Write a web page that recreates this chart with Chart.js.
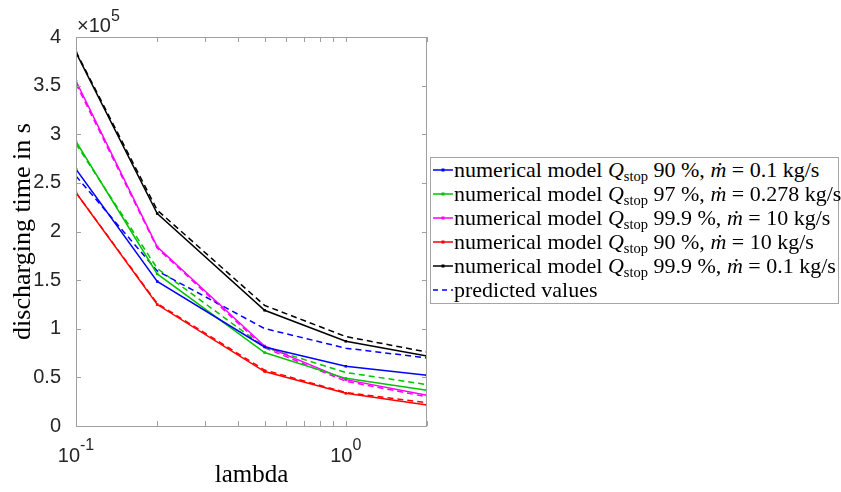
<!DOCTYPE html>
<html>
<head>
<meta charset="utf-8">
<script src="https://cdn.jsdelivr.net/npm/chart.js@4.4.0/dist/chart.umd.min.js"></script>
<style>
    body { margin: 0; background: #fff; }
    #wrap { position: relative; width: 841px; height: 492px; }
    #legend {
        position: absolute; left: 430px; top: 157px; width: 409px; height: 147px;
        box-sizing: border-box; border: 1px solid #a6a6a6; background: #fff;
        font-family: "Liberation Serif", serif; font-size: 22px; color: #000;
        padding-top: 0px;
    }
    .legend-row { height: 24px; line-height: 24px; white-space: nowrap; display: flex; align-items: center; }
    .legend-row svg { margin-left: 2px; margin-right: 1px; flex: none; }
    .legend-row sub { font-size: 0.66em; vertical-align: -0.3em; line-height: 0; }
</style>
</head>
<body>
<div id="wrap">
    <canvas id="chart" width="841" height="492"></canvas>
    <div id="legend"></div>
</div>
<script>
// lambda values (x axis, log scale)
const lambda = [0.1, 0.2, 0.5, 1, 2];

// numerical model, discharging time in s
const numQ90m01 = [264000, 148600, 81300, 61400, 52100];
const numQ97m0278 = [292600, 156400, 75500, 49000, 36700];
const numQ999m10 = [354600, 184200, 82300, 47700, 31600];
const numQ90m10 = [240000, 124900, 56000, 33600, 21600];
const numQ999m01 = [384000, 218500, 119000, 87100, 72000];

// predicted values
const predQ90m01 = [257000, 159500, 100200, 80000, 70000];
const predQ97m0278 = [290000, 162000, 81000, 55000, 42600];
const predQ999m10 = [352000, 183000, 80500, 46000, 30000];
const predQ90m10 = [240000, 126000, 57500, 34500, 24000];
const predQ999m01 = [385000, 222000, 124000, 92000, 76000];

// tick positions
const xMinorTicks = [0.1, 0.2, 0.3, 0.4, 0.5, 0.6, 0.7, 0.8, 0.9, 1, 2];
const xMajorTicks = [{ value: 0.1, exp: '-1' }, { value: 1, exp: '0' }];

const seriesNames = [
    ['90', '0.1'],
    ['97', '0.278'],
    ['99.9', '10'],
    ['90', '10'],
    ['99.9', '0.1']
];
const seriesColors = ['#0000ff', '#00c400', '#ff00ff', '#ff0000', '#000000'];
const numerical = [numQ90m01, numQ97m0278, numQ999m10, numQ90m10, numQ999m01];
const predicted = [predQ90m01, predQ97m0278, predQ999m10, predQ90m10, predQ999m01];

const datasets = [];
numerical.forEach((values, i) => {
    datasets.push({
        label: 'numerical model Qstop ' + seriesNames[i][0] + ' %, ṁ = ' + seriesNames[i][1] + ' kg/s',
        data: lambda.map((x, k) => ({ x: x, y: values[k] })),
        borderColor: seriesColors[i],
        backgroundColor: seriesColors[i],
        borderWidth: 1.5,
        pointRadius: 1.8,
        pointStyle: 'rect',
        pointBorderWidth: 0,
        tension: 0
    });
});
predicted.forEach((values, i) => {
    datasets.push({
        label: 'predicted values',
        data: lambda.map((x, k) => ({ x: x, y: values[k] })),
        borderColor: seriesColors[i],
        borderWidth: 1.5,
        borderDash: [6, 4],
        pointRadius: 0,
        tension: 0
    });
});

// box, inward ticks, x tick labels with exponents and the x10^5 factor
const axesBox = {
    id: 'axesBox',
    afterDraw(chart) {
        const { ctx, chartArea: { left, right, top, bottom }, scales: { x, y } } = chart;
        ctx.save();
        ctx.strokeStyle = '#a0a0a0';
        ctx.lineWidth = 1;
        ctx.strokeRect(left + 0.5, top + 0.5, right - left - 1, bottom - top);
        ctx.beginPath();
        y.ticks.forEach(t => {
            const py = Math.round(y.getPixelForValue(t.value)) + 0.5;
            ctx.moveTo(left, py); ctx.lineTo(left + 5, py);
            ctx.moveTo(right, py); ctx.lineTo(right - 5, py);
        });
        xMinorTicks.forEach(v => {
            const px = Math.round(x.getPixelForValue(v)) + 0.5;
            ctx.moveTo(px, bottom); ctx.lineTo(px, bottom - 5);
            ctx.moveTo(px, top); ctx.lineTo(px, top + 5);
        });
        ctx.stroke();

        ctx.fillStyle = '#262626';
        ctx.textBaseline = 'alphabetic';
        ctx.textAlign = 'left';
        xMajorTicks.forEach(t => {
            ctx.font = '20px "Liberation Sans"';
            const wBase = ctx.measureText('10').width;
            ctx.font = '16px "Liberation Sans"';
            const wExp = ctx.measureText(t.exp).width;
            const px = x.getPixelForValue(t.value);
            const x0 = px - (wBase + wExp) / 2;
            ctx.font = '20px "Liberation Sans"';
            ctx.fillText('10', x0, 462);
            ctx.font = '16px "Liberation Sans"';
            ctx.fillText(t.exp, x0 + wBase, 450);
        });

        ctx.font = '20px "Liberation Sans"';
        ctx.fillText('×10', left + 1, 32);
        const w = ctx.measureText('×10').width;
        ctx.font = '16px "Liberation Sans"';
        ctx.fillText('5', left + 1 + w, 21);
        ctx.restore();
    }
};

new Chart(document.getElementById('chart'), {
    type: 'line',
    data: { datasets: datasets },
    options: {
        responsive: false,
        animation: false,
        layout: { padding: { left: 0, top: 37, right: 414, bottom: 0 } },
        plugins: { legend: { display: false }, tooltip: { enabled: false } },
        scales: {
            x: {
                type: 'logarithmic',
                min: 0.1,
                max: 2,
                grid: { display: false },
                border: { display: false },
                ticks: { display: false },
                title: {
                    display: true,
                    text: 'lambda',
                    color: '#000',
                    font: { family: 'Liberation Serif', size: 25 },
                    padding: { top: 0, bottom: 2 }
                },
                afterFit(scale) { scale.height = 66; }
            },
            y: {
                min: 0,
                max: 400000,
                grid: { display: false },
                border: { display: false },
                ticks: {
                    stepSize: 50000,
                    callback: v => v / 1e5,
                    color: '#262626',
                    font: { family: 'Liberation Sans', size: 20 },
                    padding: 7
                },
                title: {
                    display: true,
                    text: 'discharging time in s',
                    color: '#000',
                    font: { family: 'Liberation Serif', size: 26 },
                    padding: { top: 8, bottom: 0 }
                },
                afterFit(scale) { scale.width = 76; }
            }
        }
    },
    plugins: [axesBox]
});

// legend with subscripts
const legend = document.getElementById('legend');
seriesNames.forEach((n, i) => {
    const c = seriesColors[i];
    legend.insertAdjacentHTML('beforeend',
        '<div class="legend-row"><svg width="20" height="10">' +
        '<line x1="0" y1="5" x2="20" y2="5" stroke="' + c + '" stroke-width="1.5"/>' +
        '<rect x="8.5" y="3.5" width="3" height="3" fill="' + c + '"/></svg>' +
        '<span>numerical model <i>Q</i><sub>stop</sub> ' + n[0] + ' %, <i>ṁ</i> = ' + n[1] + ' kg/s</span></div>');
});
legend.insertAdjacentHTML('beforeend',
    '<div class="legend-row"><svg width="20" height="10">' +
    '<line x1="0" y1="5" x2="20" y2="5" stroke="' + seriesColors[0] + '" stroke-width="1.5" stroke-dasharray="5 4"/></svg>' +
    '<span>predicted values</span></div>');
</script>
</body>
</html>
